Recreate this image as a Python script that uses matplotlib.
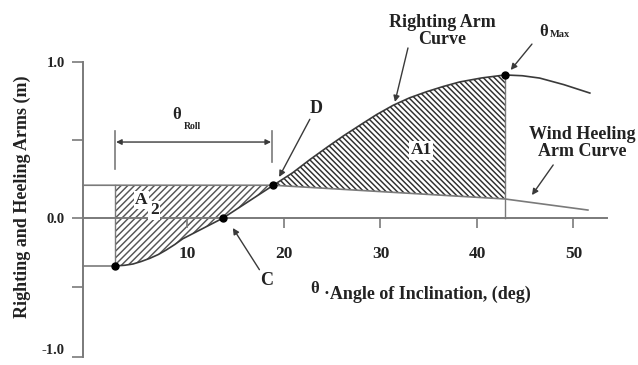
import numpy as np
import matplotlib
matplotlib.use("Agg")
import matplotlib.pyplot as plt

# ---- data ----
right_x = [2.5, 3.5, 4.35, 5.2, 6.1, 7.0, 7.8, 8.7, 9.5, 11.6, 13.7, 16.3, 18.9, 20.9, 22.7, 24.5, 26.2, 27.9, 29.6, 31.3, 33.0, 34.8, 36.5, 38.2, 40.5, 42.9, 44.7, 46.5, 49.0, 51.7]
right_y = [-0.345, -0.34, -0.331, -0.313, -0.29, -0.262, -0.23, -0.19, -0.15, -0.075, 0.0, 0.105, 0.21, 0.29, 0.375, 0.455, 0.528, 0.596, 0.663, 0.722, 0.770, 0.810, 0.843, 0.872, 0.898, 0.917, 0.912, 0.897, 0.855, 0.801]
heel_x = [-0.83, 18.9, 42.9, 51.5]
heel_y = [0.21, 0.21, 0.122, 0.051]
theta_start = 2.5
theta_C = 13.7
theta_D = 18.9
theta_max = 42.9
x_ticks = [10, 20, 30, 40, 50]
y_ticks = [-1.0, 0.0, 1.0]
y_minor = [-0.5, 0.5]

plt.rcParams['font.family'] = ['Liberation Serif', 'DejaVu Serif']
plt.rcParams['font.weight'] = 'bold'
plt.rcParams['hatch.linewidth'] = 1.05

GRAY = '#7a7a7a'
DARK = '#3a3a3a'
TXT = '#222222'

fig = plt.figure(figsize=(6.38, 3.65), dpi=100)
ax = fig.add_axes([0, 0, 1, 1])

K = 156.0 / 139.0
def fwd(y):
    y = np.asarray(y, dtype=float)
    return np.where(y >= 0, y * K, y)
def inv(t):
    t = np.asarray(t, dtype=float)
    return np.where(t >= 0, t / K, t)
ax.set_yscale('function', functions=(fwd, inv))

ax.set_xlim(-9.43, 56.69)
ax.set_ylim(-1.0576, 1.3975)

rx = np.array(right_x); ry = np.array(right_y)

# fills
m2 = (rx >= theta_start) & (rx <= theta_D)
hx2 = np.interp(rx[m2], heel_x, heel_y)
ax.fill_between(rx[m2], ry[m2], hx2, facecolor='none', edgecolor='#555555',
                hatch='/////', linewidth=0, zorder=1)
m1 = (rx >= theta_D) & (rx <= theta_max)
hx1 = np.interp(rx[m1], heel_x, heel_y)
ax.fill_between(rx[m1], ry[m1], hx1, facecolor='none', edgecolor='#2e2e2e',
                hatch='\\\\\\\\\\\\', linewidth=0, zorder=1)

# curves
ax.plot(right_x, right_y, color=DARK, lw=1.2, zorder=3)
ax.plot(heel_x, heel_y, color=GRAY, lw=1.2, zorder=3)
ax.plot([-0.83, theta_start], [right_y[0], right_y[0]], color=GRAY, lw=1.2, zorder=3)
ax.plot([theta_start, theta_start], [right_y[0], heel_y[0]], color=GRAY, lw=1.0, zorder=3)
ry_max = np.interp(theta_max, right_x, right_y)
ax.plot([theta_max, theta_max], [0, ry_max], color=GRAY, lw=1.0, zorder=3)

# points
pts_x = [theta_start, theta_C, theta_D, theta_max]
pts_y = [right_y[0], np.interp(theta_C, right_x, right_y),
         np.interp(theta_D, right_x, right_y), ry_max]
ax.plot(pts_x, pts_y, 'o', color='black', ms=5, zorder=5)

# axes styling
for s in ['top', 'right']:
    ax.spines[s].set_visible(False)
ax.spines['left'].set_position(('data', -0.83))
ax.spines['left'].set_bounds(-1, 1)
ax.spines['bottom'].set_position(('data', 0))
ax.spines['bottom'].set_bounds(-0.83, 53.5)
for s in ['left', 'bottom']:
    ax.spines[s].set_color(GRAY)
    ax.spines[s].set_linewidth(1.4)
ax.set_xticks(x_ticks)
ax.set_xticklabels([str(v) for v in x_ticks], fontsize=12.5, fontweight='bold', color=TXT)
ax.set_yticks(y_ticks)
ax.set_yticklabels(['%.1f' % v for v in y_ticks], fontsize=10.5, fontweight='bold', color=TXT)
ax.set_yticks(y_minor, minor=True)
ax.tick_params(axis='x', direction='out', length=7.5, width=1.2, color=GRAY, pad=13)
ax.tick_params(axis='y', which='both', direction='out', length=8, width=1.2, color=GRAY, pad=5)
ax.tick_params(axis='y', which='minor', labelleft=False)
ax.xaxis.set_minor_locator(matplotlib.ticker.NullLocator())
for lbl in ax.get_yticklabels():
    if lbl.get_text() == '-1.0':
        lbl.set_va('bottom')

# labels
ax.text(-7.15, 0.135, 'Righting and Heeling Arms (m)', rotation=90, ha='center', va='center',
        fontsize=13, fontweight='bold', color=TXT)
ax.text(23.2, -0.51, 'θ', ha='center', va='center', fontsize=12, fontweight='bold', color=TXT)
ax.text(24.1, -0.55, '·Angle of Inclination, (deg)', ha='left', va='center', fontsize=13,
        fontweight='bold', color=TXT)

# theta roll bracket
yb = 0.487
ax.plot([theta_start, theta_start], [0.314, 0.558], color=GRAY, lw=1.2)
ax.plot([18.76, 18.76], [0.359, 0.558], color=GRAY, lw=1.2)
ax.annotate('', xy=(theta_start + 0.1, yb), xytext=(18.66, yb),
            arrowprops=dict(arrowstyle='<|-|>', color=DARK, lw=1.0, mutation_scale=8, shrinkA=0, shrinkB=0))
ax.text(8.9, 0.66, 'θ', ha='center', va='center', fontsize=12, color=TXT)
ax.text(9.6, 0.585, 'Roll', ha='left', va='center', fontsize=7, color=TXT)

# area labels
bb = dict(facecolor='white', edgecolor='none', pad=1.0)
ax.text(5.2, 0.115, 'A', ha='center', va='center', fontsize=12.5, color=TXT, bbox=bb, zorder=6)
ax.text(6.55, 0.05, '2', ha='center', va='center', fontsize=12.5, color=TXT, bbox=bb, zorder=7)
ax.text(34.2, 0.435, 'A1', ha='center', va='center', fontsize=12.5, color=TXT, bbox=bb, zorder=6)

ap = dict(arrowstyle='-|>', color=DARK, lw=1.0, mutation_scale=9, shrinkA=0, shrinkB=0)
ax.annotate('D', xy=(19.5, 0.263), xytext=(23.3, 0.705), ha='center', va='center',
            fontsize=13, color=TXT, arrowprops=ap)
ax.annotate('C', xy=(14.7, -0.072), xytext=(18.2, -0.453), ha='center', va='center',
            fontsize=13, color=TXT, arrowprops=ap)
ax.annotate('', xy=(31.5, 0.744), xytext=(32.85, 1.09), arrowprops=ap)
ax.text(36.4, 1.2, 'Righting Arm\nCurve', ha='center', va='center', fontsize=13,
        color=TXT, linespacing=1.0)
ax.annotate('', xy=(43.5, 0.949), xytext=(45.7, 1.115), arrowprops=ap)
ax.text(46.9, 1.19, 'θ', ha='center', va='center', fontsize=12, color=TXT)
ax.text(47.6, 1.175, 'Max', ha='left', va='center', fontsize=7.5, color=TXT)
ax.annotate('', xy=(45.7, 0.147), xytext=(47.9, 0.34), arrowprops=ap)
ax.text(50.9, 0.48, 'Wind Heeling\nArm Curve', ha='center', va='center', fontsize=13,
        color=TXT, linespacing=1.0)

fig.savefig('out.png', dpi=100)
